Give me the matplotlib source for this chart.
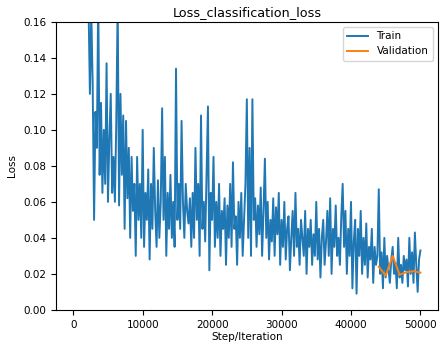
import numpy as np
import matplotlib
matplotlib.use('Agg')
import matplotlib.pyplot as plt

# train loss, one value every 200 steps from 0 to 50000
train_steps = np.arange(0, 50001, 200)
train_loss = [
    0.60, 0.45, 0.38, 0.32, 0.30, 0.27, 0.25, 0.22, 0.21, 0.20,
    0.19, 0.17, 0.12, 0.165, 0.125,
    0.05, 0.11, 0.09, 0.175, 0.075,
    0.115, 0.065, 0.10, 0.07, 0.137,
    0.06, 0.095, 0.12, 0.065, 0.085,
    0.06, 0.105, 0.17, 0.058, 0.12,
    0.075, 0.108, 0.045, 0.105, 0.062,
    0.09, 0.04, 0.085, 0.055, 0.07,
    0.03, 0.085, 0.05, 0.07, 0.04,
    0.10, 0.035, 0.065, 0.05, 0.078,
    0.028, 0.07, 0.045, 0.09, 0.055,
    0.035, 0.072, 0.04, 0.06, 0.112,
    0.05, 0.085, 0.03, 0.065, 0.045,
    0.075, 0.04, 0.06, 0.035, 0.134,
    0.05, 0.07, 0.045, 0.105, 0.06,
    0.04, 0.07, 0.055, 0.048, 0.062,
    0.035, 0.065, 0.04, 0.09, 0.05,
    0.07, 0.03, 0.108, 0.045, 0.06,
    0.038, 0.075, 0.113, 0.022, 0.065,
    0.05, 0.085, 0.035, 0.06, 0.04,
    0.07, 0.03, 0.055, 0.045, 0.062,
    0.025, 0.058, 0.04, 0.07, 0.035,
    0.082, 0.045, 0.052, 0.025, 0.06,
    0.04, 0.065, 0.03, 0.05, 0.07,
    0.117, 0.04, 0.09, 0.03, 0.117,
    0.05, 0.062, 0.035, 0.058, 0.042,
    0.068, 0.03, 0.055, 0.084, 0.04,
    0.06, 0.028, 0.05, 0.038, 0.062,
    0.03, 0.057, 0.042, 0.065, 0.025,
    0.05, 0.035, 0.06, 0.028, 0.045,
    0.052, 0.022, 0.04, 0.055, 0.03,
    0.065, 0.035, 0.045, 0.025, 0.05,
    0.04, 0.03, 0.055, 0.02, 0.045,
    0.035, 0.05, 0.025, 0.042, 0.03,
    0.06, 0.028, 0.045, 0.018, 0.04,
    0.05, 0.025, 0.038, 0.055, 0.03,
    0.062, 0.02, 0.045, 0.035, 0.058,
    0.03, 0.04, 0.025, 0.052, 0.07,
    0.035, 0.055, 0.02, 0.045, 0.03,
    0.06, 0.012, 0.038, 0.05, 0.009,
    0.045, 0.03, 0.055, 0.02, 0.04,
    0.025, 0.048, 0.018, 0.035, 0.028,
    0.045, 0.015, 0.035, 0.025, 0.03,
    0.067, 0.02, 0.032, 0.012, 0.04,
    0.018, 0.03, 0.022, 0.015, 0.028,
    0.035, 0.02, 0.026, 0.012, 0.04,
    0.018, 0.025, 0.015, 0.03, 0.022,
    0.028, 0.013, 0.04, 0.02, 0.032,
    0.015, 0.043, 0.025, 0.01, 0.028,
    0.033,
]

val_steps = [44000, 45000, 46000, 47000, 48000, 49000, 50000]
val_loss = [0.024, 0.019, 0.030, 0.0195, 0.021, 0.0215, 0.0207]

plt.rcParams['font.size'] = 7.5

fig, ax = plt.subplots(figsize=(4.4, 3.47), dpi=100)
fig.subplots_adjust(left=0.127, right=0.995, top=0.937, bottom=0.107)

ax.plot(train_steps, train_loss, label='Train', lw=1.4)
ax.plot(val_steps, val_loss, label='Validation', lw=1.4)

ax.set_ylim(0, 0.16)
ax.set_xlim(-2500, 52500)
ax.set_title('Loss_classification_loss', fontsize=9.2, pad=4)
ax.set_xlabel('Step/Iteration', labelpad=2)
ax.set_ylabel('Loss')
ax.legend(loc='upper right')

plt.savefig('out.png', dpi=100)
